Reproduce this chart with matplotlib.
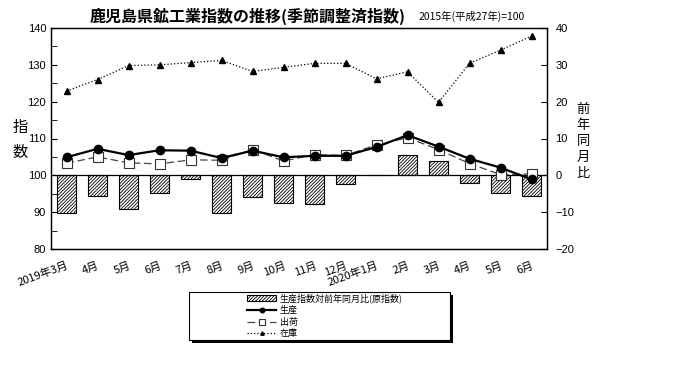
import matplotlib
matplotlib.use("Agg")
import matplotlib.pyplot as plt
from matplotlib.patches import Rectangle
import numpy as np

plt.rcParams['font.family'] = ['Noto Sans CJK JP', 'DejaVu Sans']
plt.rcParams['hatch.linewidth'] = 0.6

months = ['2019年3月', '4月', '5月', '6月', '7月', '8月', '9月', '10月', '11月', '12月',
          '2020年1月', '2月', '3月', '4月', '5月', '6月']
production = [104.9, 107.2, 105.5, 106.8, 106.7, 104.7, 106.7, 104.9, 105.3, 105.3,
              107.7, 110.9, 107.8, 104.5, 102.1, 98.9]
shipments = [103.3, 105.0, 103.4, 103.1, 104.2, 104.1, 107.0, 103.9, 105.6, 105.4,
             108.3, 110.2, 107.0, 103.2, 100.2, 100.4]
inventory = [122.9, 126.0, 129.8, 130.0, 130.6, 131.2, 128.2, 129.3, 130.4, 130.4,
             126.2, 128.1, 119.8, 130.4, 134.0, 137.8]
yoy = [-10.3, -5.7, -9.2, -4.8, -1.0, -10.3, -5.9, -7.5, -7.9, -2.3,
       0.2, 5.6, 3.8, -2.2, -4.8, -5.7]

W, H = 700, 368
fig = plt.figure(figsize=(7.0, 3.68), dpi=100)
ax = fig.add_axes([51/W, 1-249/H, (547-51)/W, (249-28)/H])
ax2 = ax.twinx()

x = np.arange(len(months))

# bars on right axis
bars = ax2.bar(x, yoy, width=0.64, facecolor='white', edgecolor='black', hatch='//////////',
               linewidth=0.8, zorder=1)
ax2.axhline(0, color='black', lw=0.9, zorder=2)
ax2.set_ylim(-20, 40)
ax2.set_yticks(np.arange(-20, 41, 10))
ax2.set_yticklabels([f'{v}'.replace('-', '−') for v in range(-20, 41, 10)])

# lines on left axis, drawn above bars
ax.set_zorder(ax2.get_zorder() + 1)
ax.patch.set_visible(False)
l1, = ax.plot(x, production, '-', color='black', lw=1.6, marker='o', ms=6, zorder=4)
l2, = ax.plot(x, shipments, '--', color='#444444', lw=0.9, marker='s', ms=7,
              mfc='white', mec='#333333', mew=0.8, zorder=3, dashes=(6, 3))
l3, = ax.plot(x, inventory, ':', color='black', lw=0.9, marker='^', ms=4.5, zorder=3)

ax.set_ylim(80, 140)
ax.set_xlim(-0.5, len(months) - 0.5)
ax.set_yticks(np.arange(80, 141, 10))
ax.set_yticks(np.arange(80, 141, 5), minor=True)
ax.set_xticks(x)
ax.set_xticklabels(months, rotation=20, ha='right', rotation_mode='anchor', fontsize=8)
ax.tick_params(axis='x', length=0, pad=8)
ax.tick_params(axis='y', direction='in', labelsize=8, length=4)
ax.tick_params(axis='y', which='minor', direction='in', length=4)
ax2.tick_params(axis='y', direction='in', labelsize=8, length=4, pad=6)
for lbl in ax.get_yticklabels() + ax2.get_yticklabels():
    lbl.set_family(['Liberation Sans', 'DejaVu Sans'])
for a in (ax, ax2):
    for s in a.spines.values():
        s.set_linewidth(0.9)

# titles
fig.text(248/W, 1-16/H, '鹿児島県鉱工業指数の推移(季節調整済指数)', ha='center', va='center',
         fontsize=11.5, fontweight='bold')
fig.text(419/W, 1-16/H, '2015年(平成27年)=100', ha='left', va='center', fontsize=7.5)
fig.text(20/W, 1-140/H, '指\n数', ha='center', va='center', fontsize=11, linespacing=1.6)
fig.text(583/W, 1-141/H, '前\n年\n同\n月\n比', ha='center', va='center', fontsize=9.5,
         linespacing=1.3)

# legend box with shadow (drawn manually)
bx0, by0, bx1, by1 = 189, 292, 450, 340
fig.patches.append(Rectangle(((bx0 + 3)/W, 1-(by1 + 3)/H), (bx1-bx0)/W, (by1-by0)/H,
                             transform=fig.transFigure, facecolor='black', edgecolor='none',
                             zorder=5))
fig.patches.append(Rectangle((bx0/W, 1-by1/H), (bx1-bx0)/W, (by1-by0)/H,
                             transform=fig.transFigure, facecolor='white', edgecolor='black',
                             linewidth=0.8, zorder=6))
handles = [bars[0], l1, l2, l3]
labels = ['生産指数対前年同月比(原指数)', '生産', '出荷', '在庫']
leg = fig.legend(handles, labels, loc='upper left', bbox_to_anchor=(240/W, 1-286/H),
                 fontsize=6.5, frameon=False, ncol=1, handlelength=3.2, handleheight=0.6,
                 borderpad=0.3, labelspacing=0.3, markerscale=0.55, handletextpad=0.4)
leg.set_zorder(7)

fig.savefig('out.png', dpi=100)
